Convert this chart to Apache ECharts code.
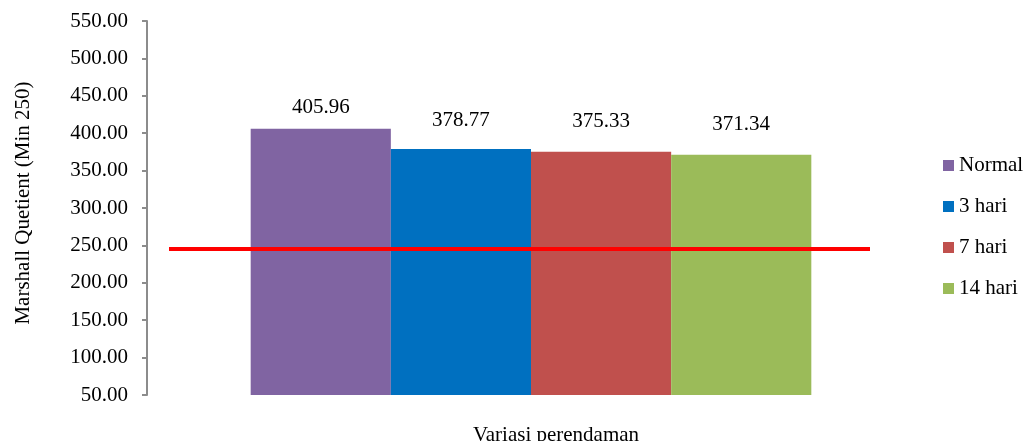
<!DOCTYPE html>
<html>
<head>
<meta charset="utf-8">
<script src="https://cdn.jsdelivr.net/npm/echarts@6/dist/echarts.min.js"></script>
<style>
  html, body { margin: 0; padding: 0; background: #ffffff; }
  #chart { width: 1027px; height: 441px; }
</style>
</head>
<body>
<div id="chart"></div>
<script>
// Marshall Quotient per soaking duration
const categories = ['Variasi perendaman'];
const seriesNames = ['Normal', '3 hari', '7 hari', '14 hari'];
const normalValues = [405.96];
const hari3Values = [378.77];
const hari7Values = [375.33];
const hari14Values = [371.34];
const minimumLine = [245];
const yTicks = { min: 50, max: 550, step: 50 };

const colors = ['#8064A2', '#0070C0', '#C0504D', '#9BBB59'];
const labelDistances = [11, 18, 20, 20];
const FONT = 'Liberation Serif, Times New Roman, serif';

const valueSets = [normalValues, hari3Values, hari7Values, hari14Values];

const series = seriesNames.map((name, i) => ({
  name: name,
  type: 'bar',
  data: valueSets[i],
  barGap: '0%',
  barCategoryGap: '27%',
  itemStyle: { color: colors[i] },
  label: {
    show: true,
    position: 'top',
    distance: labelDistances[i],
    color: '#000',
    fontFamily: FONT,
    fontSize: 21,
    formatter: p => p.value.toFixed(2)
  }
}));

// Red threshold line across the bars
series[series.length - 1].markLine = {
  silent: true,
  symbol: 'none',
  label: { show: false },
  lineStyle: { color: '#FF0000', width: 4, type: 'solid' },
  data: [[
    { xAxis: 0, yAxis: minimumLine[0], x: 169 },
    { xAxis: 0, yAxis: minimumLine[0], x: 870 }
  ]]
};

const chart = echarts.init(document.getElementById('chart'), null, { renderer: 'canvas' });
chart.setOption({
  animation: false,
  backgroundColor: '#ffffff',
  grid: { left: 147, right: 112, top: 21, bottom: 46, containLabel: false, outerBoundsMode: 'none' },
  legend: {
    orient: 'vertical',
    left: 938,
    top: 150,
    itemWidth: 11,
    itemHeight: 11,
    itemGap: 20,
    icon: 'rect',
    textStyle: { fontFamily: FONT, fontSize: 21, color: '#000' },
    data: seriesNames
  },
  xAxis: {
    type: 'category',
    data: categories,
    name: categories[0],
    nameLocation: 'middle',
    nameGap: 30,
    nameTextStyle: { fontFamily: FONT, fontSize: 21, color: '#000', padding: [0, 0, 0, 50] },
    axisLine: { show: false },
    axisTick: { show: false },
    axisLabel: { show: false }
  },
  yAxis: {
    type: 'value',
    min: yTicks.min,
    max: yTicks.max,
    interval: yTicks.step,
    name: 'Marshall Quetient (Min 250)',
    nameLocation: 'middle',
    nameGap: 113,
    nameRotate: 90,
    nameTextStyle: { fontFamily: FONT, fontSize: 21, color: '#000', padding: [0, 0, 0, 10] },
    axisLine: { show: true, lineStyle: { color: '#8c8c8c', width: 2 } },
    axisTick: { show: true, length: 5, inside: false, lineStyle: { color: '#8c8c8c', width: 2 } },
    splitLine: { show: false },
    axisLabel: {
      margin: 19,
      fontFamily: FONT,
      fontSize: 21,
      color: '#000',
      formatter: v => v.toFixed(2)
    }
  },
  series: series
});
</script>
</body>
</html>
